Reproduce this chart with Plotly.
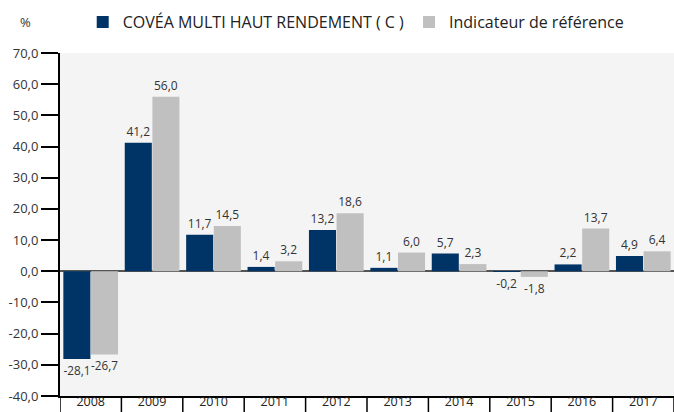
import plotly.graph_objects as go

years = ["2008", "2009", "2010", "2011", "2012", "2013", "2014", "2015", "2016", "2017"]
fund = [-28.1, 41.2, 11.7, 1.4, 13.2, 1.1, 5.7, -0.2, 2.2, 4.9]
bench = [-26.7, 56.0, 14.5, 3.2, 18.6, 6.0, 2.3, -1.8, 13.7, 6.4]
fund_name = "COVÉA MULTI HAUT RENDEMENT ( C )"
bench_name = "Indicateur de référence"
ytick_vals = [70, 60, 50, 40, 30, 20, 10, 0, -10, -20, -30, -40]

def fr(v):
    return f"{v:.1f}".replace(".", ",")

font = "Open Sans, Noto Sans, sans-serif"

fig = go.Figure()
fig.add_trace(go.Bar(x=years, y=fund, name=fund_name, marker_color="#003466",
                     marker_line_width=0, text=[fr(v) for v in fund], textposition="outside",
                     textfont=dict(size=12, color="#333333"), cliponaxis=False))
fig.add_trace(go.Bar(x=years, y=bench, name=bench_name, marker_color="#c0c0c0",
                     marker_line_width=0, text=[fr(v) for v in bench], textposition="outside",
                     textfont=dict(size=12, color="#333333"), cliponaxis=False))

shapes = []
for i in range(len(years) + 1):
    shapes.append(dict(type="line", xref="x", yref="paper", x0=i - 0.5, x1=i - 0.5,
                       y0=0, y1=-16 / 343, line=dict(color="black", width=1.5)))

fig.update_layout(
    width=674, height=412,
    margin=dict(l=60, r=0, t=53, b=16),
    paper_bgcolor="white", plot_bgcolor="#f4f4f4",
    font=dict(family=font, color="#333333"),
    barmode="group", bargap=0.1, bargroupgap=0.02,
    showlegend=True,
    legend=dict(orientation="h", x=0.037, xanchor="left", y=1.09, yanchor="middle",
                font=dict(size=16, color="#222222"), itemwidth=30, bgcolor="rgba(0,0,0,0)"),
    xaxis=dict(type="category", range=[-0.5, 9.5], showline=True, linecolor="black", linewidth=2,
               ticks="", ticklen=0, ticklabelstandoff=-7, tickfont=dict(size=12.5, color="#222222"),
               showgrid=False, mirror=False, automargin=False),
    yaxis=dict(range=[-40, 70], tickvals=ytick_vals, ticktext=[fr(v) for v in ytick_vals],
               showline=True, linecolor="black", linewidth=2, ticks="outside", ticklen=17,
               tickwidth=1.5, tickcolor="black", tickfont=dict(size=13, color="#333333"),
               showgrid=False, zeroline=True, zerolinecolor="#555555", zerolinewidth=1.5,
               automargin=False),
    shapes=shapes,
    annotations=[dict(text="%", xref="paper", yref="paper", x=-60 / 614 + 25 / 614, y=1 + 31 / 343,
                      xanchor="center", yanchor="middle", showarrow=False,
                      font=dict(size=13, color="#333333"))],
)
fig.write_html("out.html")
